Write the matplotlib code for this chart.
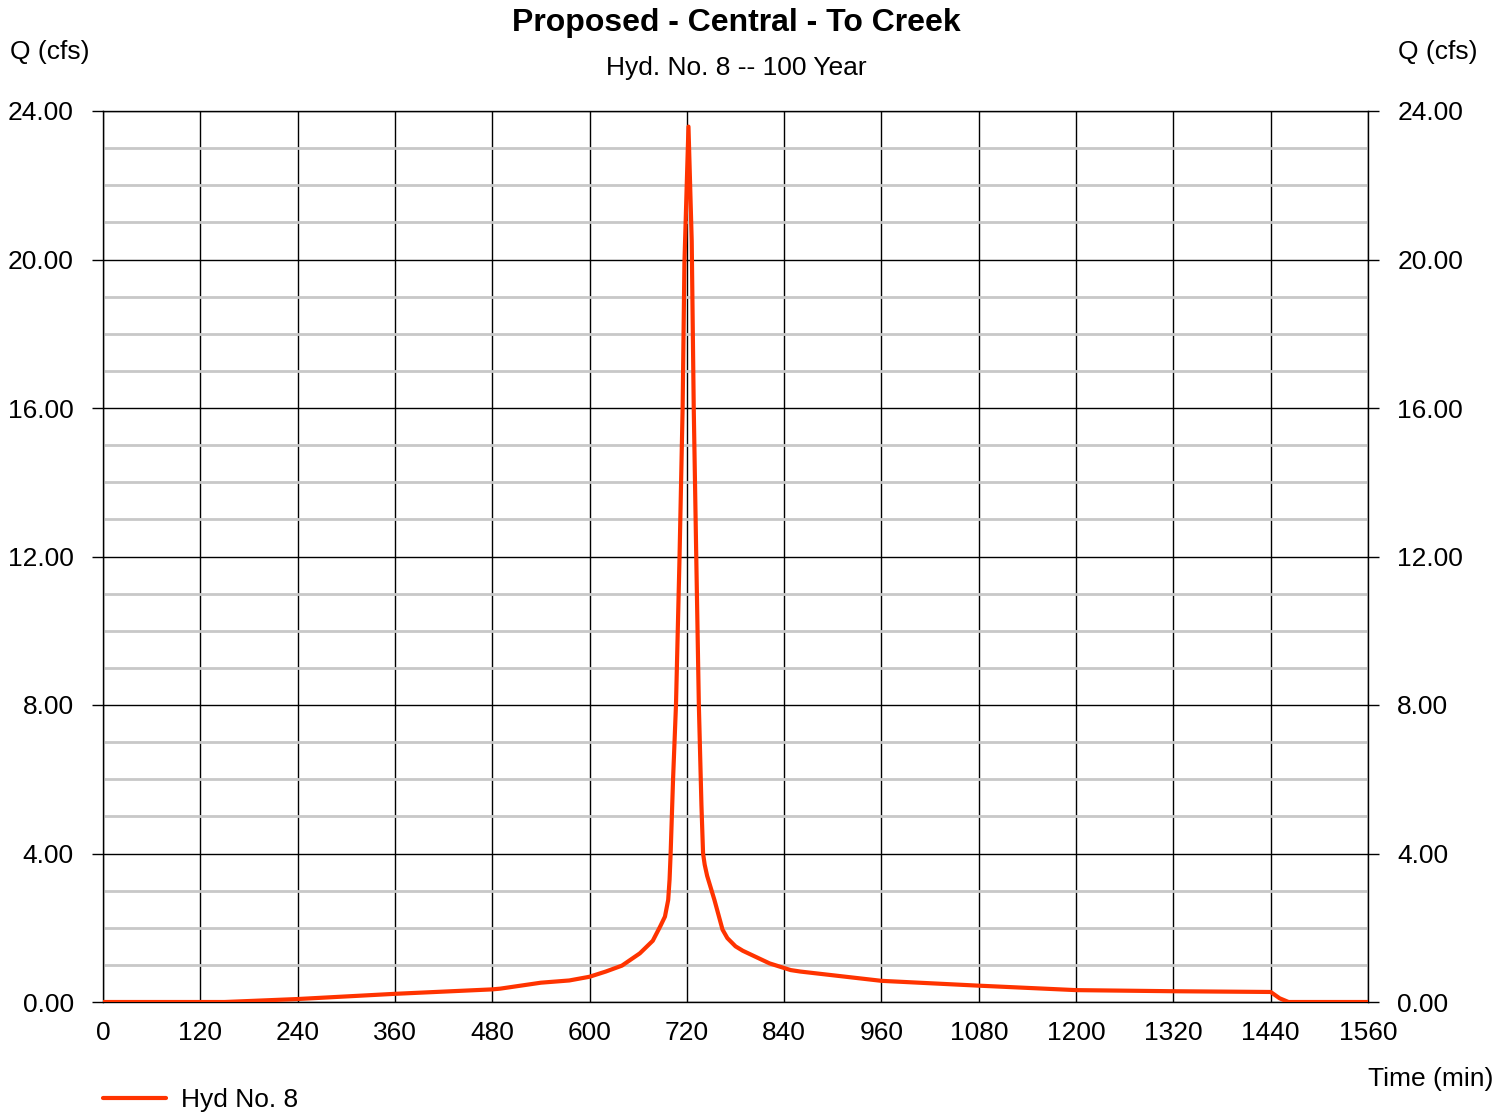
import numpy as np
import matplotlib
matplotlib.use("Agg")
import matplotlib.pyplot as plt
import matplotlib.ticker as mticker

plt.rcParams["font.family"] = ["Liberation Sans", "DejaVu Sans"]

# hydrograph (time in min, flow in cfs)
time_min = [0, 150, 240, 360, 480, 490, 540, 575, 600, 620, 640, 662, 678,
            687, 693, 697, 698.7, 700, 703, 706.6, 711, 714.8, 717, 722, 726,
            728.5, 731.6, 734.8, 738, 740, 742, 745, 754, 764, 770, 780, 789,
            822, 848, 860, 960, 1080, 1200, 1320, 1440, 1451, 1462, 1560]
flow_cfs = [0, 0, 0.08, 0.22, 0.34, 0.36, 0.52, 0.58, 0.68, 0.82, 0.98, 1.31,
            1.65, 2.03, 2.3, 2.75, 3.3, 4.0, 6.0, 8.0, 12.0, 16.0, 19.9, 23.58,
            20.5, 16.0, 12.0, 8.0, 5.3, 4.0, 3.7, 3.4, 2.75, 1.95, 1.72, 1.5,
            1.38, 1.04, 0.86, 0.82, 0.57, 0.44, 0.32, 0.29, 0.27, 0.1, 0.0,
            0.0]

x_ticks = np.arange(0, 1561, 120)
y_ticks = np.arange(0, 24.01, 4)

W, H = 1509, 1112
fig = plt.figure(figsize=(W / 100, H / 100), dpi=100)
ax = fig.add_axes([103 / W, 110 / H, (1368 - 103) / W, (1002 - 111) / H])

line, = ax.plot(time_min, flow_cfs, color="#ff3300", lw=3.0, zorder=5,
                solid_capstyle="round", solid_joinstyle="round",
                label="Hyd No. 8")

ax.set_xlim(0, 1560)
ax.set_ylim(0, 24)
ax.set_xticks(x_ticks)
ax.set_yticks(y_ticks)
ax.yaxis.set_minor_locator(mticker.MultipleLocator(1))
ax.yaxis.set_major_formatter(mticker.FormatStrFormatter("%.2f"))

ax.grid(which="minor", axis="y", color="#c8c8c8", lw=2.0, zorder=1)
ax.grid(which="major", axis="y", color="black", lw=1.0, zorder=2)
ax.grid(which="major", axis="x", color="black", lw=1.0, zorder=2)
ax.set_axisbelow(True)

for s in ax.spines.values():
    s.set_color("black")
    s.set_linewidth(1.0)

ax.tick_params(axis="x", length=0, pad=14, labelsize=19)
ax.tick_params(axis="y", which="major", direction="out", length=8, width=1,
               pad=13, labelsize=19, left=True, right=True,
               labelleft=True, labelright=True)
ax.tick_params(axis="y", which="minor", length=0)

fig.text(736 / W, 1 - 23 / H, "Proposed - Central - To Creek", ha="center",
         va="center", fontsize=23, fontweight="bold")
fig.text(736 / W, 1 - 68 / H, "Hyd. No. 8 -- 100 Year", ha="center",
         va="center", fontsize=19)
fig.text(10 / W, 1 - 52 / H, "Q (cfs)", ha="left", va="center", fontsize=19)
fig.text(1398 / W, 1 - 52 / H, "Q (cfs)", ha="left", va="center", fontsize=19)
fig.text(1368 / W, 1 - 1079 / H, "Time (min)", ha="left", va="center",
         fontsize=19)

fig.legend(handles=[line], loc="center left",
           bbox_to_anchor=(103 / W, 1 - 1100 / H), frameon=False,
           fontsize=19, handlelength=2.4, handletextpad=0.55,
           borderpad=0, borderaxespad=0)

fig.savefig("out.png", dpi=100)
